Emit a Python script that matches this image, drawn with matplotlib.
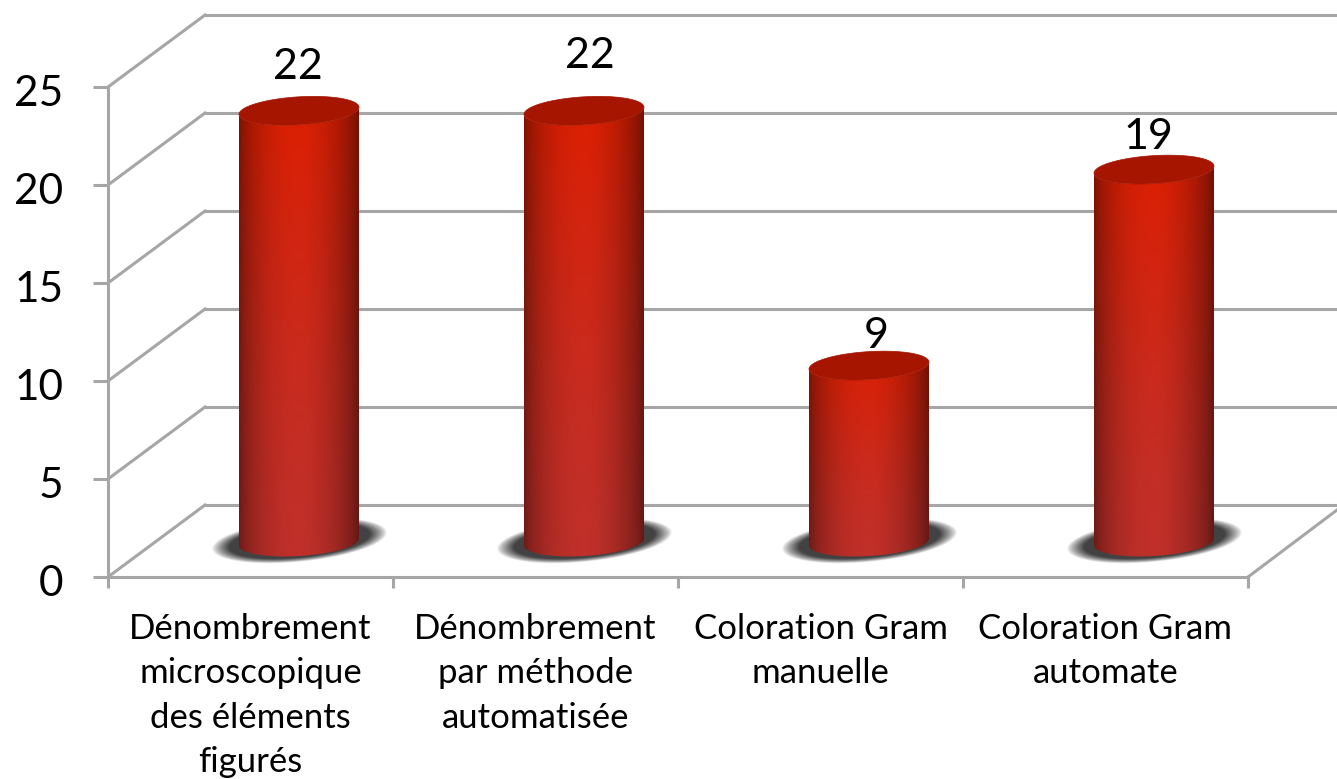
import numpy as np
import matplotlib
matplotlib.use("Agg")
import matplotlib.pyplot as plt
from matplotlib.path import Path
from matplotlib.patches import PathPatch
from matplotlib.transforms import Affine2D

categories = ["Dénombrement\nmicroscopique\ndes éléments\nfigurés",
              "Dénombrement\npar méthode\nautomatisée",
              "Coloration Gram\nmanuelle",
              "Coloration Gram\nautomate"]
values = [22, 22, 9, 19]
y_ticks = [0, 5, 10, 15, 20, 25]
label_nudge = [(-1, -5), (6, 6), (7, -19), (-6, -16)]

W, H = 1337, 779
GRAY = "#a6a6a6"

plt.rcParams["font.family"] = ["Lato", "DejaVu Sans"]

fig = plt.figure(figsize=(W / 100, H / 100), dpi=100)
# axes box is the front plane of the 3d chart
ax = fig.add_axes([108 / W, 1 - 577 / H, 1140 / W, 490 / H])
ax.patch.set_alpha(0)

back_tr = ax.transData + Affine2D().translate(97, 72)
mid_tr = ax.transData + Affine2D().translate(48.5, 35)

# walls and floor
for v in y_ticks:
    ax.plot([0, 4.5], [v, v], transform=back_tr, color=GRAY, lw=2.2, clip_on=False, zorder=1)
    ax.plot([0, 97 / 285], [v, v + 72 / 19.6], color=GRAY, lw=2.2, clip_on=False, zorder=1)
ax.plot([4, 4 + 89 / 285], [0, 67 / 19.6], color=GRAY, lw=2.2, clip_on=False, zorder=1)


def ellipse_xy(xc, yc, t, a=60 / 285, b=14 / 19.6, tilt=3.5 / 19.6):
    return xc + a * np.cos(t), yc + b * np.sin(t) + tilt * np.cos(t)


def cylinder(xc, val):
    a = 60 / 285
    # shadow under the bar
    u = np.linspace(-1.25, 1.25, 300)
    v = np.linspace(-1.6, 1.6, 120)
    uu, vv = np.meshgrid(u, v)
    d = np.sqrt(uu ** 2 + ((vv - 0.42 * uu) / 1.1) ** 2)
    alpha = np.clip((1.02 - d) / 0.2, 0, 1) ** 0.8 * 0.88
    rgba = np.zeros(uu.shape + (4,))
    rgba[..., :3] = 0.16
    rgba[..., 3] = alpha
    ax.imshow(rgba, origin="lower", aspect="auto", transform=mid_tr, zorder=2,
              extent=[xc - 1.25 * 86 / 285, xc + 1.25 * 86 / 285,
                      -1.6 * 19 / 19.6 + 0.05, 1.6 * 19 / 19.6 + 0.05],
              interpolation="bilinear", clip_on=False)

    # body shading
    s = np.linspace(0, 1, 240)
    r = np.linspace(0, 1, 200)
    ss, rr = np.meshgrid(s, r)
    shade = 0.42 + 0.58 * np.sin(np.pi * np.clip(ss * 0.96 + 0.02, 0, 1)) ** 0.5
    shade = shade * (1 - 0.1 * np.clip((ss - 0.55) * 2, 0, 1))
    top_col = np.array([222, 30, 0]) / 255
    bot_col = np.array([192, 48, 42]) / 255
    img = np.zeros(ss.shape + (3,))
    for c in range(3):
        img[..., c] = (bot_col[c] + (top_col[c] - bot_col[c]) * rr ** 1.4) * shade
    t_low = np.linspace(np.pi, 2 * np.pi, 60)
    bx, by = ellipse_xy(xc, 0, t_low)
    t_up = np.linspace(2 * np.pi, np.pi, 60)
    tx, ty = ellipse_xy(xc, val, t_up)
    pts = np.column_stack([np.r_[bx, tx], np.r_[by, ty]])
    body = PathPatch(Path(np.r_[pts, pts[:1]], closed=True), transform=mid_tr, fc="none", ec="none")
    im = ax.imshow(img, origin="lower", aspect="auto", transform=mid_tr, zorder=3,
                   extent=[xc - a, xc + a, -1.2, val + 1.2], interpolation="bilinear", clip_on=True)
    im.set_clip_path(body)

    # top cap
    t = np.linspace(0, 2 * np.pi, 120)
    cx, cy = ellipse_xy(xc, val, t)
    cap = PathPatch(Path(np.column_stack([cx, cy]), closed=True), transform=mid_tr,
                    fc="#a51500", ec="#a51500", lw=0.5, zorder=4)
    ax.add_patch(cap)


centers = [i + 0.5 for i in range(len(values))]
for xc, val, nudge in zip(centers, values, label_nudge):
    cylinder(xc, val)
    ax.text(xc, val, str(val), transform=mid_tr + Affine2D().translate(nudge[0], 30 + nudge[1]),
            ha="center", va="bottom", fontsize=31, color="black", zorder=6, clip_on=False)

ax.set_xlim(0, 4)
ax.set_ylim(0, 25)
ax.set_aspect("auto")

for side in ("top", "right"):
    ax.spines[side].set_visible(False)
for side in ("left", "bottom"):
    ax.spines[side].set_color(GRAY)
    ax.spines[side].set_linewidth(2.2)
    ax.spines[side].set_zorder(1)

ax.set_yticks(y_ticks)
ax.tick_params(axis="y", length=11, width=2.2, color=GRAY, labelsize=30.5, pad=21, labelcolor="black")
for lab in ax.get_yticklabels():
    lab.set_transform(lab.get_transform() + Affine2D().translate(0, -4))
ax.set_xticks(range(5))
ax.set_xticklabels([])
ax.tick_params(axis="x", length=8, width=2.2, color=GRAY)
ax.set_xticks(centers, minor=True)
ax.set_xticklabels(categories, minor=True, fontsize=25, linespacing=1.47, color="black")
ax.tick_params(axis="x", which="minor", length=0, pad=26)

fig.savefig("out.png", dpi=100)
